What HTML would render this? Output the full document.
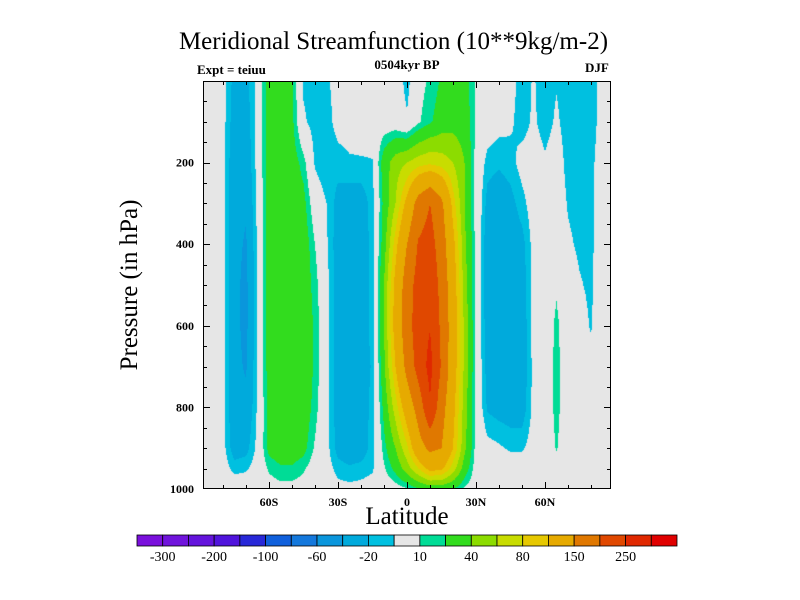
<!DOCTYPE html>
<html><head><meta charset="utf-8">
<style>
body{margin:0;background:#fff;}
#wrap{position:relative;width:800px;height:600px;overflow:hidden;font-family:"Liberation Serif",serif;color:#000;}
.t{position:absolute;white-space:nowrap;}
</style></head>
<body>
<div id="wrap">
<div class="t" style="left:0;width:787px;text-align:center;top:28px;font-size:25px;">Meridional Streamfunction (10**9kg/m-2)</div>
<div class="t" style="left:197px;top:62px;font-size:13px;font-weight:bold;">Expt = teiuu</div>
<div class="t" style="left:307px;width:200px;text-align:center;top:57px;font-size:13px;font-weight:bold;">0504kyr BP</div>
<div class="t" style="left:585px;top:60px;font-size:13px;font-weight:bold;">DJF</div>
<div class="t" style="left:307px;width:200px;text-align:center;top:503px;font-size:25px;">Latitude</div>
<div class="t" style="left:130px;top:285px;font-size:25px;transform:translate(-50%,-50%) rotate(-90deg);">Pressure (in hPa)</div>
<canvas id="cv" width="408" height="408" style="position:absolute;left:203px;top:81px;"></canvas>
<svg id="ov" width="800" height="600" style="position:absolute;left:0;top:0;"></svg>
</div>
<script>
const lats=[-90,-85,-80,-75,-70,-65,-60,-55,-50,-45,-40,-35,-30,-25,-20,-15,-10,-5,0,5,10,15,20,25,30,35,40,45,50,55,60,65,70,75,80,85,90];
const pLevels=[0,100,200,300,400,500,600,700,800,900,950,1000];
const row0=[0,0,-5,-25,-25,-5,30,30,22,-12,-15,-12,-5,0,0,0,0,0,-15,5,12,22,28,28,8,0,0,-5,-15,-9,-15,-11,-15,-18,-15,-5,0];
const row100=[0,0,-5,-28,-28,-5,30,30,24,-8,-15,-15,-5,-3,0,0,0,0,-8,8,18,28,32,30,8,0,-5,-8,-15,-8,-15,-8,-15,-18,-15,-5,0];
const row200=[0,0,-5,-32,-32,-5,30,30,28,15,-12,-18,-15,-12,-12,-11,30,50,60,70,75,70,60,40,5,-15,-18,-14,-5,-3,-8,-3,-14,-15,-13,-3,0];
const row300=[0,0,-5,-33,-38,-6,30,30,30,25,0,-10,-25,-28,-28,-15,25,60,110,170,200,160,90,40,5,-25,-30,-25,-14,-3,-5,-2,-11,-14,-13,0,0];
const row400=[0,0,-6,-35,-42,-8,30,32,32,30,10,-8,-28,-30,-30,-15,30,90,150,205,220,175,110,45,5,-30,-30,-30,-25,-5,0,0,-8,-12,-13,0,0];
const row500=[0,0,-6,-35,-45,-8,30,32,32,30,15,-5,-28,-32,-30,-15,40,110,175,220,235,185,120,50,5,-33,-30,-28,-28,-5,0,8,-3,-9,-12,0,0];
const row600=[0,0,-6,-35,-45,-8,30,32,32,30,18,-5,-28,-32,-30,-15,40,115,180,225,248,190,125,55,5,-28,-28,-28,-30,-5,0,13,0,-5,-11,0,0];
const row700=[0,0,-6,-35,-42,-8,28,32,32,30,18,-5,-28,-32,-30,-18,35,100,165,220,265,195,120,55,5,-26,-28,-28,-30,-6,0,14,0,0,-6,0,0];
const row800=[0,0,-6,-33,-35,-8,26,32,32,30,15,-5,-28,-32,-30,-15,25,70,120,170,245,170,110,50,5,-22,-26,-28,-28,-6,0,14,0,0,0,0,0];
const row900=[0,0,-5,-28,-25,-6,25,30,30,25,8,-5,-25,-30,-28,-15,15,40,75,130,160,150,100,45,5,-5,-8,-12,-12,-3,0,11,0,0,0,0,0];
const row950=[0,0,-3,-14,-12,-3,12,18,18,12,2,-3,-15,-18,-16,-12,8,25,50,80,110,105,70,30,3,0,0,0,0,0,0,3,0,0,0,0,0];
const row1000=[0,0,0,0,0,0,3,5,5,3,0,0,-5,-6,-5,-3,0,3,8,18,25,25,20,8,0,0,0,0,0,0,0,0,0,0,0,0,0];
const levels=[-300,-250,-200,-150,-100,-80,-60,-40,-20,-10,10,20,40,60,80,100,150,200,250,300];
const levelLabels=['-300','-200','-100','-60','-20','10','40','80','150','250'];
const colors=['#7a10dc','#7014dc','#6414dc','#5014dc','#2828d8','#1060dc','#1478dc','#0a96dc','#00aadc','#00c0e0','#e6e6e6','#00dc96','#32dc1e','#8cdc00','#c8dc00','#e6c800','#e6aa00','#e07800','#e04800','#e02800','#e00000'];
const xTickVals=[-60,-30,0,30,60];
const xTickLabels=['60S','30S','0','30N','60N'];
const yTickVals=[200,400,600,800,1000];

const grid=[row0,row100,row200,row300,row400,row500,row600,row700,row800,row900,row950,row1000];
const PL=203,PT=81,PW=408,PH=408;
function xOf(lat){return 407+lat*2.3;}
function latOf(x){return (x-407)/2.3;}
function yOf(p){return PT+p*PH/1000;}
function pOf(y){return (y-PT)*1000/PH;}
function classify(v){let i=0;while(i<levels.length&&v>=levels[i])i++;return i;}
function hex(c){return [parseInt(c.substr(1,2),16),parseInt(c.substr(3,2),16),parseInt(c.substr(5,2),16)];}
function sample(lat,p){
  let fi=(lat-lats[0])/5;fi=Math.max(0,Math.min(lats.length-1.0001,fi));
  const i=Math.floor(fi),fx=fi-i;
  let j=0;while(j<pLevels.length-2&&p>pLevels[j+1])j++;
  let fy=(p-pLevels[j])/(pLevels[j+1]-pLevels[j]);fy=Math.max(0,Math.min(1,fy));
  const a=grid[j][i],b=grid[j][i+1],c=grid[j+1][i],d=grid[j+1][i+1];
  return (a*(1-fx)+b*fx)*(1-fy)+(c*(1-fx)+d*fx)*fy;
}
const cv=document.getElementById('cv');const ctx=cv.getContext('2d');
const img=ctx.createImageData(PW,PH);const rgb=colors.map(hex);
for(let y=0;y<PH;y++){for(let x=0;x<PW;x++){
  const v=sample(latOf(PL+x+0.5),pOf(PT+y+0.5));const c=rgb[classify(v)];
  const k=(y*PW+x)*4;img.data[k]=c[0];img.data[k+1]=c[1];img.data[k+2]=c[2];img.data[k+3]=255;}}
ctx.putImageData(img,0,0);

const NS='http://www.w3.org/2000/svg';const ov=document.getElementById('ov');
function el(tag,attrs){const e=document.createElementNS(NS,tag);for(const k in attrs)e.setAttribute(k,attrs[k]);ov.appendChild(e);return e;}
const frame=el('rect',{x:PL+0.5,y:PT+0.5,width:PW-1,height:PH-1,fill:'none',stroke:'#000','stroke-width':1});


for(let lat=-80;lat<=80;lat+=10){
  const x=Math.round(xOf(lat))+0.5;const major=xTickVals.indexOf(lat)>=0;const L=major?7:4;
  const t1=el('line',{x1:x,x2:x,y1:PT+PH,y2:PT+PH-L,stroke:'#000'});
  
  
  const t2=el('line',{x1:x,x2:x,y1:PT,y2:PT+L,stroke:'#000'});
  
  
}
xTickVals.forEach((v,i)=>{
  const t=el('text',{x:xOf(v),y:PT+PH+17,'text-anchor':'middle','font-size':12,'font-weight':'bold','font-family':'Liberation Serif, serif'});
  t.textContent=xTickLabels[i];
  
  
});
for(let p=50;p<1000;p+=50){
  const y=Math.round(yOf(p))+0.5;const major=p%200===0;const L=major?7:4;
  const t1=el('line',{x1:PL,x2:PL+L,y1:y,y2:y,stroke:'#000'});
  
  
  const t2=el('line',{x1:PL+PW,x2:PL+PW-L,y1:y,y2:y,stroke:'#000'});
  
  
}
yTickVals.forEach(v=>{
  const t=el('text',{x:PL-9,y:yOf(v)+4,'text-anchor':'end','font-size':12,'font-weight':'bold','font-family':'Liberation Serif, serif'});
  t.textContent=String(v);
  
  
});
const CBX=137,CBY=535,CBW=540,CBH=11,bw=CBW/colors.length;
colors.forEach((c,i)=>{
  const r=el('rect',{x:CBX+i*bw,y:CBY,width:bw,height:CBH,fill:c,stroke:'#000','stroke-width':0.8});
  
  
});
levelLabels.forEach((s,k)=>{
  const li=levels.indexOf(Number(s));
  const t=el('text',{x:CBX+(li+1)*bw,y:CBY+CBH+15,'text-anchor':'middle','font-size':14,'font-family':'Liberation Serif, serif'});
  t.textContent=s;
  
  
});
</script>
</body></html>
